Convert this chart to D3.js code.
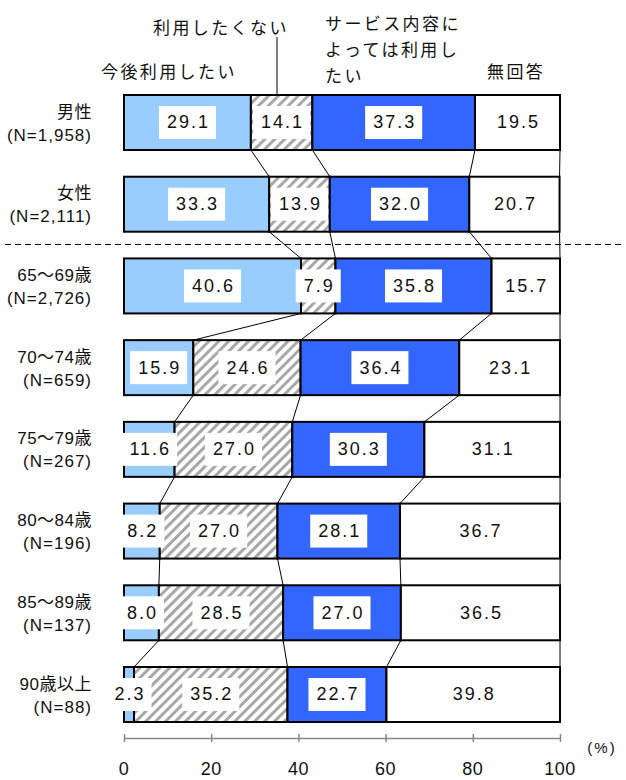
<!DOCTYPE html>
<html><head><meta charset="utf-8">
<script src="https://cdn.jsdelivr.net/npm/d3@7"></script>
<style>body{margin:0;background:#fff}svg{display:block}</style>
</head><body>
<script>
const categories = ["男性","女性","65～69歳","70～74歳","75～79歳","80～84歳","85～89歳","90歳以上"];
const sampleSizes = ["(N=1,958)","(N=2,111)","(N=2,726)","(N=659)","(N=267)","(N=196)","(N=137)","(N=88)"];
const seriesNames = ["今後利用したい","利用したくない","サービス内容によっては利用したい","無回答"];
const willUse = [29.1,33.3,40.6,15.9,11.6,8.2,8.0,2.3];
const notUse = [14.1,13.9,7.9,24.6,27.0,27.0,28.5,35.2];
const dependsOnService = [37.3,32.0,35.8,36.4,30.3,28.1,27.0,22.7];
const noAnswer = [19.5,20.7,15.7,23.1,31.1,36.7,36.5,39.8];
const xTicks = [0,20,40,60,80,100];

const W=626,H=780;
const font='"Liberation Sans","Noto Sans CJK JP",sans-serif';
const svg=d3.select("body").append("svg").attr("width",W).attr("height",H).style("font-family",font).attr("fill","#111");
const defs=svg.append("defs");
const pat=defs.append("pattern").attr("id","hatch").attr("patternUnits","userSpaceOnUse")
  .attr("width",7).attr("height",7).attr("patternTransform","rotate(45)");
pat.append("rect").attr("width",7).attr("height",7).attr("fill","#fff");
pat.append("rect").attr("x",0).attr("y",0).attr("width",3).attr("height",7).attr("fill","#a8a8a8");

const x=d3.scaleLinear().domain([0,100]).range([124,560]);
const y=d3.scaleBand().domain(categories).range([95,722]).paddingInner(0.327).paddingOuter(0);
const fills=["#99ccff","url(#hatch)","#3366ff","#ffffff"];
const series=[willUse,notUse,dependsOnService,noAnswer];

const rows=categories.map((c,i)=>{
  let acc=0;
  return series.map((s,k)=>{const v=s[i];const seg={k,v,x0:acc,x1:acc+v};acc+=v;return seg;});
});

// connector lines
const conn=svg.append("g").attr("stroke","#000").attr("stroke-width",1);
for(let i=0;i<categories.length-1;i++){
  for(let k=0;k<4;k++){
    const a=rows[i][k].x1, b=rows[i+1][k].x1;
    conn.append("line").attr("x1",x(Math.min(a,100))).attr("y1",y(categories[i])+y.bandwidth())
      .attr("x2",x(Math.min(b,100))).attr("y2",y(categories[i+1]));
  }
}

// dashed separator
svg.append("line").attr("x1",5).attr("x2",622).attr("y1",244.5).attr("y2",244.5)
  .attr("stroke","#000").attr("stroke-width",1).attr("stroke-dasharray","6,4");

// bars
const gRows=svg.append("g").selectAll("g").data(rows).join("g")
  .attr("transform",(d,i)=>`translate(0,${y(categories[i])})`);
gRows.selectAll("rect").data(d=>d).join("rect")
  .attr("x",d=>x(d.x0)).attr("width",d=>x(d.x1)-x(d.x0))
  .attr("y",0).attr("height",y.bandwidth())
  .attr("fill",d=>fills[d.k]).attr("stroke","#000").attr("stroke-width",2);

// value labels with white boxes
gRows.each(function(d){
  const g=d3.select(this);
  d.forEach(seg=>{
    const cx=(x(seg.x0)+x(seg.x1))/2, cy=y.bandwidth()/2;
    const t=g.append("text").attr("x",cx+1).attr("y",cy).attr("text-anchor","middle")
      .attr("dominant-baseline","central").attr("font-size",18).attr("letter-spacing",2)
      .text(seg.v.toFixed(1));
    const bb=t.node().getBBox();
    g.insert("rect",()=>t.node()).attr("x",cx-bb.width/2-7).attr("y",cy-16.5)
      .attr("width",bb.width+14).attr("height",33).attr("fill","#fff");
  });
});

// category labels
categories.forEach((c,i)=>{
  const top=y(c);
  svg.append("text").attr("x",92).attr("y",top+17).attr("text-anchor","end")
    .attr("dominant-baseline","central").attr("font-size",17).attr("letter-spacing",0.5).text(c);
  svg.append("text").attr("x",92).attr("y",top+40).attr("text-anchor","end")
    .attr("dominant-baseline","central").attr("font-size",17).attr("letter-spacing",1).text(sampleSizes[i]);
});

// axis
const ax=svg.append("g").attr("transform","translate(0,738)");
ax.call(d3.axisBottom(x).tickValues(xTicks).tickSize(0).tickFormat(""));
ax.select(".domain").attr("stroke","#888").attr("stroke-width",1.5);
ax.selectAll(".tick").append("line").attr("y1",-4).attr("y2",4).attr("stroke","#888").attr("stroke-width",1.5);
svg.append("g").selectAll("text").data(xTicks).join("text")
  .attr("x",d=>x(d)).attr("y",769).attr("text-anchor","middle").attr("dominant-baseline","central")
  .attr("font-size",18).attr("letter-spacing",0.5).text(d=>d);
svg.append("text").attr("x",602).attr("y",747).attr("text-anchor","middle").attr("dominant-baseline","central")
  .attr("font-size",15).attr("letter-spacing",2).text("(%)");

// header labels
function hdr(tx,xx,yy,anchor){
  svg.append("text").attr("x",xx).attr("y",yy).attr("text-anchor",anchor||"start")
    .attr("dominant-baseline","central").attr("font-size",17).attr("letter-spacing",2.4).text(tx);
}
hdr(seriesNames[0],101,72);
hdr(seriesNames[1],153,28);
hdr("サービス内容に",325,24);
hdr("よっては利用し",325,50);
hdr("たい",325,76);
hdr(seriesNames[3],487,72);
svg.append("line").attr("x1",277).attr("x2",277).attr("y1",37).attr("y2",95).attr("stroke","#000").attr("stroke-width",1);
</script>
</body></html>
